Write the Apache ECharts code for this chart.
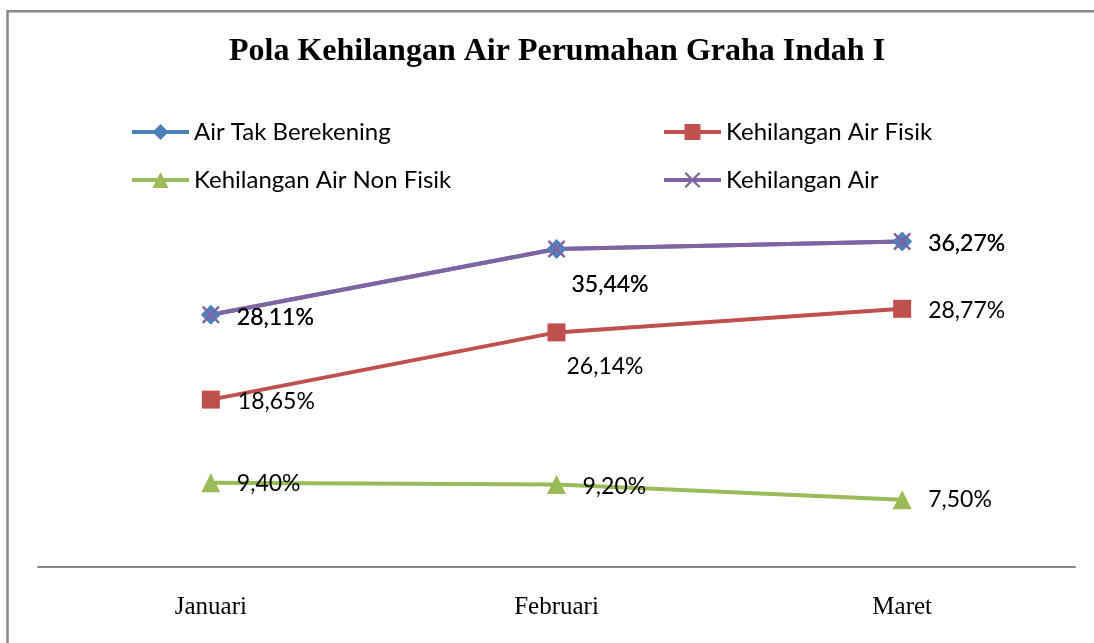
<!DOCTYPE html>
<html>
<head>
<meta charset="utf-8">
<title>Pola Kehilangan Air</title>
<script src="https://cdn.jsdelivr.net/npm/echarts@6/dist/echarts.min.js"></script>
<style>
  html, body { margin: 0; padding: 0; background: #fff; }
  #main { width: 1094px; height: 643px; }
</style>
</head>
<body>
<div id="main"></div>
<script>
// data
var bulan = ['Januari', 'Februari', 'Maret'];
var airTakBerekening = [28.11, 35.44, 36.27];
var airFisik = [18.65, 26.14, 28.77];
var airNonFisik = [9.40, 9.20, 7.50];
var kehilanganAir = [28.11, 35.44, 36.27];

var judul = 'Pola Kehilangan Air Perumahan Graha Indah I';
var namaSeri = ['Air Tak Berekening', 'Kehilangan Air Fisik', 'Kehilangan Air Non Fisik', 'Kehilangan Air'];

var fontLabel = 'Lato, "Open Sans", sans-serif';
var fontSerif = '"Liberation Serif", "DejaVu Serif", serif';
var symX = 'path://M0,1L1,0L5,4L9,0L10,1L6,5L10,9L9,10L5,6L1,10L0,9L4,5Z';

// offset label tiap titik: [dx, dy] dari titik
function buatData(values, offsets) {
    return values.map(function (v, i) {
        return {
            value: v,
            label: { offset: offsets[i] }
        };
    });
}
function fmt(p) {
    return p.value.toFixed(2).replace('.', ',') + '%';
}
var labelDasar = {
    show: true,
    position: 'inside',
    align: 'left',
    verticalAlign: 'middle',
    color: '#000',
    fontFamily: fontLabel,
    fontSize: 23,
    formatter: fmt
};

function legenda(nama, left, top) {
    return {
        data: [nama],
        left: left,
        top: top,
        padding: 0,
        itemWidth: 57,
        itemHeight: 20,
        selectedMode: false,
        lineStyle: { width: 4 },
        textStyle: { fontFamily: fontLabel, fontSize: 24, color: '#000' }
    };
}

var myChart = echarts.init(document.getElementById('main'));
var option = {
    backgroundColor: '#fff',
    animation: false,
    title: {
        text: judul,
        left: 224,
        top: 31,
        textStyle: { fontFamily: fontSerif, fontWeight: 'bold', fontSize: 32, color: '#000' }
    },
    graphic: [{
        type: 'rect',
        shape: { x: 7.5, y: 11.2, width: 2000, height: 2000 },
        style: { fill: 'none', stroke: '#888', lineWidth: 2.5 },
        silent: true
    }],
    legend: [
        legenda(namaSeri[0], 130, 120),
        legenda(namaSeri[1], 662, 120),
        legenda(namaSeri[2], 130, 168),
        legenda(namaSeri[3], 662, 168)
    ],
    grid: { left: 38, right: 19, top: 208, bottom: 76 },
    xAxis: {
        type: 'category',
        data: bulan,
        boundaryGap: true,
        axisLine: { lineStyle: { color: '#888', width: 2 } },
        axisTick: { show: false },
        axisLabel: { fontFamily: fontSerif, fontSize: 25, color: '#000', margin: 28 }
    },
    yAxis: {
        type: 'value',
        min: 0,
        max: 40,
        show: false
    },
    series: [
        {
            name: namaSeri[0],
            type: 'line',
            data: buatData(airTakBerekening, [[26, 3], [15, 36], [26, 2]]),
            symbol: 'diamond',
            symbolSize: 20,
            color: '#4F81BD',
            lineStyle: { width: 4 },
            label: labelDasar
        },
        {
            name: namaSeri[1],
            type: 'line',
            data: buatData(airFisik, [[27, 2], [10, 34], [26, 2]]),
            symbol: 'rect',
            symbolSize: 18,
            color: '#C0504D',
            lineStyle: { width: 4 },
            label: labelDasar
        },
        {
            name: namaSeri[2],
            type: 'line',
            data: buatData(airNonFisik, [[26, 1], [26, 2], [26, 0]]),
            symbol: 'triangle',
            symbolSize: 19,
            color: '#9BBB59',
            lineStyle: { width: 4 },
            label: labelDasar
        },
        {
            name: namaSeri[3],
            type: 'line',
            data: buatData(kehilanganAir, [[26, 3], [15, 36], [26, 2]]),
            symbol: symX,
            symbolSize: 18,
            color: '#8064A2',
            lineStyle: { width: 4 },
            label: labelDasar
        }
    ]
};
myChart.setOption(option);
</script>
</body>
</html>
